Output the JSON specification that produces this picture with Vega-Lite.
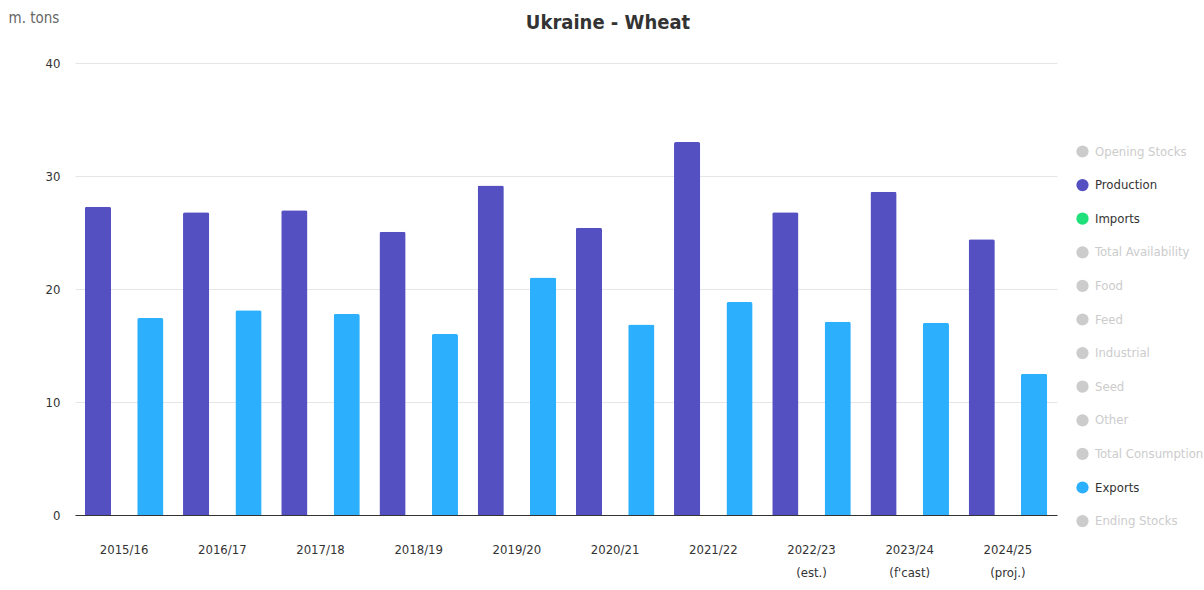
{
  "$schema": "https://vega.github.io/schema/vega-lite/v6.json",
  "width": 982,
  "height": 452,
  "autosize": {"type": "none"},
  "padding": {"left": 75, "top": 63, "right": 147, "bottom": 75},
  "background": "white",
  "config": {
    "font": "DejaVu Sans Condensed",
    "view": {"stroke": null}
  },
  "title": {
    "text": "Ukraine - Wheat",
    "fontSize": 20,
    "fontWeight": "bold",
    "color": "#333333",
    "anchor": "middle",
    "dx": 42,
    "offset": -23,
    "font": "DejaVu Sans Condensed"
  },
  "data": {
    "values": [
      {"year": "2015/16", "attr": "Production", "value": 27.27},
      {"year": "2015/16", "attr": "Imports", "value": 0},
      {"year": "2015/16", "attr": "Exports", "value": 17.43},
      {"year": "2016/17", "attr": "Production", "value": 26.79},
      {"year": "2016/17", "attr": "Imports", "value": 0},
      {"year": "2016/17", "attr": "Exports", "value": 18.11},
      {"year": "2017/18", "attr": "Production", "value": 26.98},
      {"year": "2017/18", "attr": "Imports", "value": 0},
      {"year": "2017/18", "attr": "Exports", "value": 17.78},
      {"year": "2018/19", "attr": "Production", "value": 25.06},
      {"year": "2018/19", "attr": "Imports", "value": 0},
      {"year": "2018/19", "attr": "Exports", "value": 16.02},
      {"year": "2019/20", "attr": "Production", "value": 29.17},
      {"year": "2019/20", "attr": "Imports", "value": 0},
      {"year": "2019/20", "attr": "Exports", "value": 21.02},
      {"year": "2020/21", "attr": "Production", "value": 25.42},
      {"year": "2020/21", "attr": "Imports", "value": 0},
      {"year": "2020/21", "attr": "Exports", "value": 16.85},
      {"year": "2021/22", "attr": "Production", "value": 33.01},
      {"year": "2021/22", "attr": "Imports", "value": 0},
      {"year": "2021/22", "attr": "Exports", "value": 18.84},
      {"year": "2022/23 (est.)", "attr": "Production", "value": 26.8},
      {"year": "2022/23 (est.)", "attr": "Imports", "value": 0},
      {"year": "2022/23 (est.)", "attr": "Exports", "value": 17.1},
      {"year": "2023/24 (f'cast)", "attr": "Production", "value": 28.6},
      {"year": "2023/24 (f'cast)", "attr": "Imports", "value": 0},
      {"year": "2023/24 (f'cast)", "attr": "Exports", "value": 17.0},
      {"year": "2024/25 (proj.)", "attr": "Production", "value": 24.4},
      {"year": "2024/25 (proj.)", "attr": "Imports", "value": 0},
      {"year": "2024/25 (proj.)", "attr": "Exports", "value": 12.5}
    ]
  },
  "mark": {"type": "bar", "cornerRadiusTopLeft": 2, "cornerRadiusTopRight": 2},
  "encoding": {
    "x": {
      "field": "year",
      "type": "nominal",
      "sort": null,
      "scale": {"paddingInner": 0.2, "paddingOuter": 0.1},
      "axis": {
        "title": null,
        "labelAngle": 0,
        "labelExpr": "split(datum.label, ' ')",
        "labelFontSize": 13,
        "labelColor": "#333333",
        "labelPadding": 28,
        "labelLineHeight": 23,
        "ticks": false,
        "domainColor": "#333333",
        "domainWidth": 1,
        "grid": false
      }
    },
    "xOffset": {
      "field": "attr",
      "type": "nominal",
      "scale": {"domain": ["Production", "Imports", "Exports"], "paddingInner": 0, "paddingOuter": 0}
    },
    "y": {
      "field": "value",
      "type": "quantitative",
      "scale": {"domain": [0, 40]},
      "axis": {
        "title": "m. tons",
        "titleAngle": 0,
        "titleAlign": "left",
        "titleBaseline": "middle",
        "titleX": -67,
        "titleY": -46,
        "titleFontSize": 15,
        "titleFontWeight": "normal",
        "titleColor": "#666666",
        "values": [0, 10, 20, 30, 40],
        "labelFontSize": 13,
        "labelColor": "#333333",
        "labelPadding": 15,
        "ticks": false,
        "domain": false,
        "gridColor": "#e6e6e6"
      }
    },
    "color": {
      "field": "attr",
      "type": "nominal",
      "scale": {
        "domain": ["Opening Stocks", "Production", "Imports", "Total Availability", "Food", "Feed", "Industrial", "Seed", "Other", "Total Consumption", "Exports", "Ending Stocks"],
        "range": ["#cccccc", "#5450c2", "#1fe07a", "#cccccc", "#cccccc", "#cccccc", "#cccccc", "#cccccc", "#cccccc", "#cccccc", "#2cb0fe", "#cccccc"]
      },
      "legend": {
        "title": null,
        "orient": "none",
        "legendX": 1001,
        "legendY": 82,
        "symbolType": "circle",
        "symbolSize": 150,
        "symbolStrokeWidth": 0,
        "labelFontSize": 13,
        "labelOffset": 6,
        "rowPadding": 19.6,
        "labelLimit": 200,
        "encode": {
          "labels": {
            "update": {
              "fill": {"signal": "indexof(['Production','Imports','Exports'], datum.label) >= 0 ? '#333333' : '#cccccc'"}
            }
          }
        }
      }
    }
  }
}
